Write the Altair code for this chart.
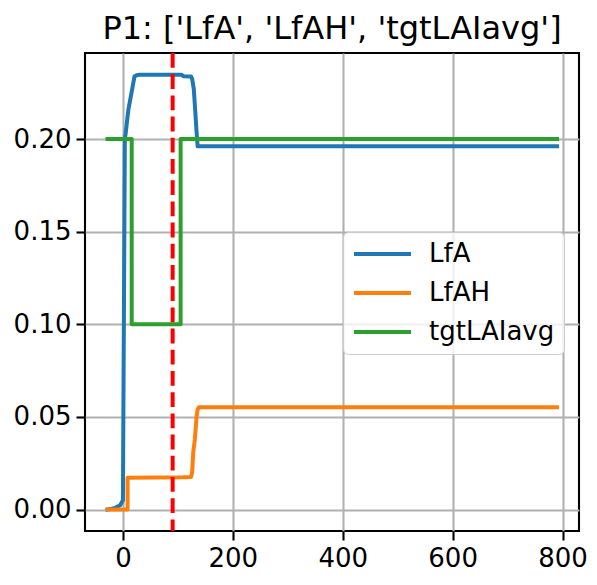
import altair as alt
import pandas as pd

# ---- data ----
series_names = ["LfA", "LfAH", "tgtLAIavg"]
series_colors = ["#1f77b4", "#ff7f0e", "#2ca02c"]

lfa_x = [-28, -20, -14, -5, 0, 3.5, 5, 8, 10, 15, 21, 25, 30, 107, 110, 124, 126, 129, 131, 134, 136, 790]
lfa_y = [0.0, 0.0004, 0.0009, 0.0023, 0.005, 0.200, 0.203, 0.211, 0.216, 0.224, 0.2338, 0.2345, 0.2347,
         0.2347, 0.2340, 0.2338, 0.2325, 0.2270, 0.2180, 0.2040, 0.1961, 0.1961]

lfah_x = [-28, 8.5, 8.5, 109, 124, 126, 128, 131, 134, 136, 138, 790]
lfah_y = [0.0, 0.0, 0.0171, 0.0174, 0.0176, 0.020, 0.031, 0.038, 0.050, 0.054, 0.0552, 0.0552]

tgt_x = [-28, 16, 16, 105, 105, 790]
tgt_y = [0.20, 0.20, 0.10, 0.10, 0.20, 0.20]

vline_x = [90.5]

x_ticks = [0, 200, 400, 600, 800]
y_ticks = [0.00, 0.05, 0.10, 0.15, 0.20]
title_text = "P1: ['LfA', 'LfAH', 'tgtLAIavg']"

rows = []
for name, xs, ys in zip(series_names, [lfa_x, lfah_x, tgt_x], [lfa_y, lfah_y, tgt_y]):
    for i, (xv, yv) in enumerate(zip(xs, ys)):
        rows.append({"series": name, "x": xv, "y": yv, "order": i})
df = pd.DataFrame(rows)
vdf = pd.DataFrame({"x": vline_x})

x_scale = alt.Scale(domain=[-69, 830], nice=False, zero=False)
y_scale = alt.Scale(domain=[-0.0116, 0.2465], nice=False, zero=False)

lines = alt.Chart(df).mark_line(strokeWidth=4, strokeCap="square", strokeJoin="round").encode(
    x=alt.X("x:Q", scale=x_scale, axis=alt.Axis(values=x_ticks, format="d", title=None)),
    y=alt.Y("y:Q", scale=y_scale, axis=alt.Axis(values=y_ticks, format=".2f", title=None)),
    color=alt.Color(
        "series:N",
        scale=alt.Scale(domain=series_names, range=series_colors),
        legend=alt.Legend(
            title=None, orient="none", legendX=258, legendY=179, direction="vertical",
            symbolType="stroke", symbolSize=3249, symbolStrokeWidth=4,
            labelFontSize=26, labelFont="DejaVu Sans", labelColor="black",
            labelOffset=16, padding=9, rowPadding=13, clipHeight=26,
            fillColor="rgba(255,255,255,0.8)", strokeColor="#cccccc", cornerRadius=5,
        ),
    ),
    order="order:Q",
)

rule = alt.Chart(vdf).mark_rule(color="red", strokeWidth=4, strokeDash=[14.8, 6.4]).encode(
    x=alt.X("x:Q", scale=x_scale)
)

chart = (
    alt.layer(lines, rule)
    .properties(
        width=494,
        height=478,
        title=alt.TitleParams(title_text, fontSize=32, font="DejaVu Sans", fontWeight="normal",
                              color="black", anchor="middle", offset=5),
        autosize=alt.AutoSizeParams(type="none"),
        padding={"left": 77, "top": 45, "right": 9, "bottom": 40},
        background="white",
    )
    .configure_view(stroke="black", strokeWidth=2.1)
    .configure_axis(
        labelFont="DejaVu Sans", labelFontSize=26, labelColor="black",
        tickColor="black", tickWidth=2.1, tickSize=9, labelPadding=5,
        gridColor="#b0b0b0", gridWidth=2.1, domain=False, labelFlush=False,
    )
)

chart.save("out.html", embed_options={"renderer": "svg", "actions": False})
